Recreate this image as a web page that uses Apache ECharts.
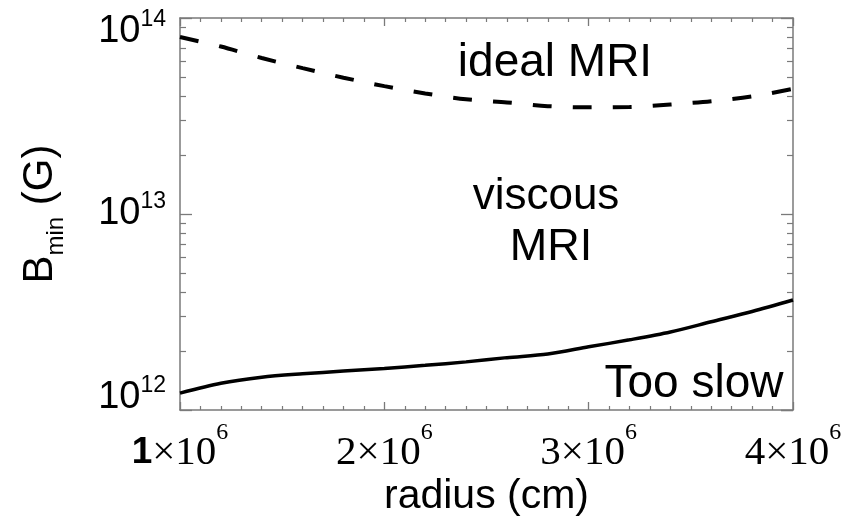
<!DOCTYPE html>
<html>
<head>
<meta charset="utf-8">
<script src="https://cdn.jsdelivr.net/npm/echarts@6/dist/echarts.min.js"></script>
<style>
  html, body { margin: 0; padding: 0; background: #fff; }
  #chart { width: 860px; height: 519px; }
</style>
</head>
<body>
<div id="chart"></div>
<script>
// radius (cm)
const radius = [1.0e6, 1.2e6, 1.4e6, 1.6e6, 1.8e6, 2.0e6, 2.2e6, 2.4e6,
  2.6e6, 2.8e6, 3.0e6, 3.2e6, 3.4e6, 3.6e6, 3.8e6, 4.0e6];
// B_min for ideal MRI (dashed)
const idealMRI = [8.0e13, 7.15e13, 6.25e13, 5.55e13, 4.96e13, 4.49e13, 4.12e13, 3.85e13,
  3.71e13, 3.55e13, 3.50e13, 3.51e13, 3.62e13, 3.76e13, 3.98e13, 4.35e13];
// B_min for viscous MRI (solid)
const viscousMRI = [1.22e12, 1.37e12, 1.47e12, 1.53e12, 1.58e12, 1.63e12, 1.69e12, 1.76e12,
  1.85e12, 1.93e12, 2.10e12, 2.28e12, 2.50e12, 2.82e12, 3.18e12, 3.64e12];

const xTicks = [1e6, 2e6, 3e6, 4e6];
const yMinorTicks = [2e12, 3e12, 4e12, 5e12, 6e12, 7e12, 8e12, 9e12,
  2e13, 3e13, 4e13, 5e13, 6e13, 7e13, 8e13, 9e13];

const SANS = "'Liberation Sans', Arial, sans-serif";
const SERIF = "'Liberation Serif', 'Times New Roman', serif";
const AXIS_COLOR = "#7a7a7a";

const chart = echarts.init(document.getElementById("chart"));

const gridBox = { left: 180, right: 67, top: 18, bottom: 109, outerBoundsMode: "none", containLabel: false };

const majorTick = (len) => ({
  show: true, inside: true, length: len,
  lineStyle: { color: AXIS_COLOR, width: 1.3 },
});

// y label: first/last are pushed inside the frame like the original plot
const yLabel = (v) => {
  const e = Math.round(Math.log10(v));
  const txt = "{t|10}{sup|" + e + "}";
  if (e === 12) return txt + "\n{gapLo| }";
  if (e === 14) return "{gapHi| }\n" + txt;
  return txt;
};

const option = {
  backgroundColor: "#fff",
  animation: false,
  grid: [
    Object.assign({}, gridBox),
    Object.assign({}, gridBox),
  ],
  xAxis: [
    {
      type: "value", gridIndex: 0, position: "bottom",
      min: xTicks[0], max: xTicks[xTicks.length - 1], interval: 1e6,
      axisLine: { show: true, lineStyle: { color: AXIS_COLOR, width: 1.5 } },
      axisTick: majorTick(8),
      minorTick: { show: true, splitNumber: 10, length: 4, lineStyle: { color: AXIS_COLOR, width: 1.2 } },
      splitLine: { show: false },
      axisLabel: {
        margin: 23,
        formatter: (v) => {
          const m = Math.round(v / 1e6);
          return (m === 1 ? "{one|1}" : "{t|" + m + "}") + "{t|\u00d710}{sup|6}";
        },
        rich: {
          t: { fontFamily: SERIF, fontSize: 41, color: "#000", lineHeight: 40 },
          one: { fontFamily: SANS, fontSize: 37, fontWeight: "bold", color: "#000", lineHeight: 40 },
          sup: { fontFamily: SERIF, fontSize: 24, color: "#000", lineHeight: 10, padding: [0, 0, 40, 0] },
        },
      },
      name: "radius (cm)",
      nameLocation: "middle",
      nameGap: 66,
      nameMoveOverlap: false,
      nameTextStyle: { fontFamily: SANS, fontSize: 41, color: "#000" },
    },
    {
      type: "value", gridIndex: 0, position: "top",
      min: xTicks[0], max: xTicks[xTicks.length - 1], interval: 1e6,
      axisLine: { show: true, lineStyle: { color: AXIS_COLOR, width: 1.5 } },
      axisTick: majorTick(8),
      minorTick: { show: true, splitNumber: 10, length: 4, lineStyle: { color: AXIS_COLOR, width: 1.2 } },
      splitLine: { show: false },
      axisLabel: { show: false },
    },
    {
      type: "value", gridIndex: 1, show: false,
      min: xTicks[0], max: xTicks[xTicks.length - 1],
    },
  ],
  yAxis: [
    {
      type: "log", gridIndex: 0, position: "left",
      min: 1e12, max: 1e14, logBase: 10,
      axisLine: { show: true, lineStyle: { color: AXIS_COLOR, width: 1.5 } },
      axisTick: majorTick(12),
      splitLine: { show: false },
      axisLabel: {
        margin: 14,
        formatter: yLabel,
        rich: {
          t: { fontFamily: SANS, fontSize: 38, color: "#000", lineHeight: 40 },
          sup: { fontFamily: SANS, fontSize: 23, color: "#000", lineHeight: 10, padding: [0, 0, 24, 0] },
          gapLo: { fontSize: 1, lineHeight: 24 },
          gapHi: { fontSize: 1, lineHeight: 28 },
        },
      },
      name: "{t|B}{sub|min}{t| (G)}",
      nameLocation: "middle",
      nameGap: 118,
      nameTextStyle: {
        rich: {
          t: { fontFamily: SANS, fontSize: 42, color: "#000", lineHeight: 44 },
          sub: { fontFamily: SANS, fontSize: 24, color: "#000", lineHeight: 10, padding: [32, 0, 0, 0] },
        },
      },
    },
    {
      type: "log", gridIndex: 0, position: "right",
      min: 1e12, max: 1e14, logBase: 10,
      axisLine: { show: true, lineStyle: { color: AXIS_COLOR, width: 1.5 } },
      axisTick: majorTick(12),
      splitLine: { show: false },
      axisLabel: { show: false },
    },
    {
      // minor log ticks, left (value axis in log10 units)
      type: "value", gridIndex: 1, position: "left",
      min: 12, max: 14,
      axisLine: { show: false },
      axisTick: {
        show: true, inside: true, length: 6,
        customValues: yMinorTicks.map((v) => Math.log10(v)),
        lineStyle: { color: AXIS_COLOR, width: 1.2 },
      },
      splitLine: { show: false },
      axisLabel: { show: false },
    },
    {
      type: "value", gridIndex: 1, position: "right",
      min: 12, max: 14,
      axisLine: { show: false },
      axisTick: {
        show: true, inside: true, length: 6,
        customValues: yMinorTicks.map((v) => Math.log10(v)),
        lineStyle: { color: AXIS_COLOR, width: 1.2 },
      },
      splitLine: { show: false },
      axisLabel: { show: false },
    },
  ],
  series: [
    {
      name: "ideal MRI",
      type: "line",
      xAxisIndex: 0, yAxisIndex: 0,
      data: radius.map((r, i) => [r, idealMRI[i]]),
      showSymbol: false,
      smooth: 0.3,
      lineStyle: { color: "#000", width: 4, type: [19, 21] },
    },
    {
      name: "viscous MRI",
      type: "line",
      xAxisIndex: 0, yAxisIndex: 0,
      data: radius.map((r, i) => [r, viscousMRI[i]]),
      showSymbol: false,
      smooth: 0.3,
      lineStyle: { color: "#000", width: 3.5 },
    },
  ],
  graphic: [
    { type: "text", x: 555, y: 63, style: { text: "ideal MRI", font: "46px " + SANS, fill: "#000", textAlign: "center", textVerticalAlign: "middle" } },
    { type: "text", x: 546, y: 197, style: { text: "viscous", font: "44px " + SANS, fill: "#000", textAlign: "center", textVerticalAlign: "middle" } },
    { type: "text", x: 551, y: 248, style: { text: "MRI", font: "45px " + SANS, fill: "#000", textAlign: "center", textVerticalAlign: "middle" } },
    { type: "text", x: 694, y: 384, style: { text: "Too slow", font: "46px " + SANS, fill: "#000", textAlign: "center", textVerticalAlign: "middle" } },
  ],
};

chart.setOption(option);
</script>
</body>
</html>
